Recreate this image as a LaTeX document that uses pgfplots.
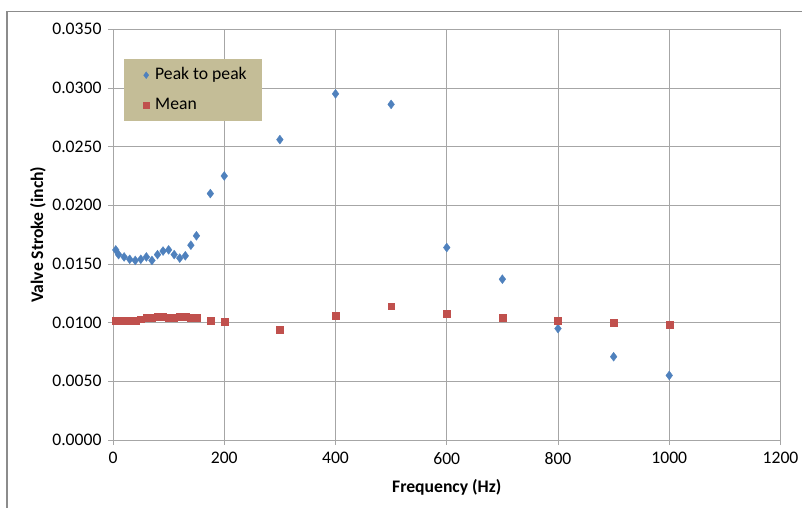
\documentclass[border=0pt]{standalone}
\usepackage{pgfplots}
\pgfplotsset{compat=1.18}
\usepackage{fontspec}
\setmainfont{Carlito}
\definecolor{pblue}{HTML}{4F81BD}
\definecolor{pred}{HTML}{C0504D}
\definecolor{legbg}{HTML}{C4BD97}
\definecolor{gridc}{HTML}{A6A6A6}
\definecolor{framec}{HTML}{8C8C8C}
\begin{document}
\begin{tikzpicture}
\path[use as bounding box] (0,0) rectangle (802bp,508bp);
\draw[color=framec, line width=1.2bp] (7bp,-3bp) -- (7bp,496.3bp) -- (806bp,496.3bp);
\begin{axis}[
  at={(113bp,68bp)}, anchor=south west,
  scale only axis, width=667.5bp, height=410.7bp,
  xmin=0, xmax=1200, ymin=0, ymax=0.035,
  xtick={0,200,400,600,800,1000,1200},
  ytick={0,0.005,0.01,0.015,0.02,0.025,0.03,0.035},
  scaled y ticks=false, scaled x ticks=false,
  /pgf/number format/assume math mode=true,
  ticklabel style={font=\fontsize{17.7}{21}\selectfont, text=black},
  xticklabel style={yshift=-4bp, /pgf/number format/1000 sep={}},
  yticklabel style={xshift=-3bp, /pgf/number format/fixed, /pgf/number format/fixed zerofill, /pgf/number format/precision=4},
  tick pos=left, tick align=outside, major tick length=5bp,
  tick style={gridc, line width=0.8bp},
  axis line style={gridc, line width=0.8bp},
  grid=major, major grid style={gridc, line width=0.8bp},
  xlabel={\textbf{Frequency (Hz)}},
  ylabel={\textbf{Valve Stroke (inch)}},
  label style={font=\fontsize{17.7}{21}\selectfont},
  xlabel style={at={(axis description cs:0.5,-0.1144)}, anchor=center},
  ylabel style={at={(axis description cs:-0.1124,0.5)}, anchor=center},
  legend style={at={(0.0165,0.9277)}, anchor=north west, fill=legbg, draw=none,
    inner xsep=15bp, inner ysep=8bp, row sep=14bp, column sep=0pt,
    nodes={inner sep=0pt, text height=12bp, text depth=4bp},
    font=\fontsize{17.7}{21}\selectfont},
  legend cell align=left,
  legend image code/.code={\path[draw=none, fill=none] (0bp,0bp) -- (16bp,0bp); \draw[#1, only marks, mark options={scale=0.75}] plot coordinates {(7bp,0bp)};},
]
\addplot[only marks, mark=diamond*, mark size=4.5bp, color=pblue, mark options={draw=pblue, fill=pblue, line width=0.3bp}] coordinates {
(5,0.0162) (10,0.0158) (20,0.0156) (30,0.0154) (40,0.0153) (50,0.0154)
(60,0.0156) (70,0.0153) (80,0.0158) (90,0.0161) (100,0.0162) (110,0.0158)
(120,0.0155) (130,0.0157) (140,0.0166) (150,0.0174) (175,0.0210) (200,0.0225)
(300,0.0256) (400,0.0295) (500,0.0286) (600,0.0164) (700,0.0137)
(800,0.0095) (900,0.0071) (1000,0.0055)
};
\addlegendentry{Peak to peak}
\addplot[only marks, mark=square*, mark size=3.4bp, color=pred, mark options={draw=pred, fill=pred, line width=0.3bp}] coordinates {
(5,0.0102) (10,0.0102) (20,0.0102) (30,0.0102) (40,0.0102) (50,0.0103)
(60,0.0104) (70,0.0104) (80,0.0105) (90,0.0105) (100,0.0104) (110,0.0104)
(120,0.0105) (130,0.0105) (140,0.0104) (150,0.0104) (175,0.0102) (200,0.0101)
(300,0.0094) (400,0.0106) (500,0.0114) (600,0.0108) (700,0.0104)
(800,0.0102) (900,0.0100) (1000,0.0098)
};
\addlegendentry{Mean}
\end{axis}
\end{tikzpicture}
\end{document}
